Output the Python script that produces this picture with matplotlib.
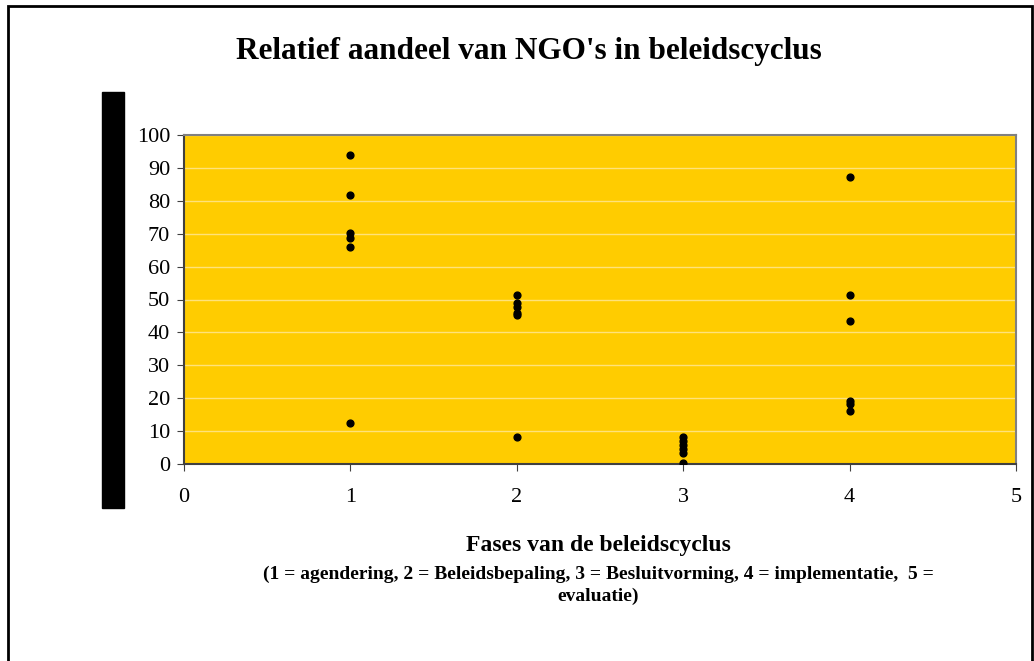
import matplotlib.pyplot as plt
from matplotlib.patches import Rectangle

# fase in de beleidscyclus en relatief aandeel (%)
fase1 = [94.0, 81.8, 70.3, 68.6, 66.1, 12.6]
fase2 = [51.5, 48.8, 47.8, 46.0, 45.4, 8.3]
fase3 = [8.2, 7.0, 5.8, 4.6, 3.4, 0.4]
fase4 = [87.3, 51.5, 43.6, 19.2, 18.3, 16.2]

fases = [1, 2, 3, 4]
waarden = [fase1, fase2, fase3, fase4]

plt.rcParams['font.family'] = ['Liberation Serif', 'DejaVu Serif']

fig = plt.figure(figsize=(10.34, 6.61), dpi=100)
ax = fig.add_axes([184/1034, 1-464/661, (1016-184)/1034, (464-135)/661])

for f, w in zip(fases, waarden):
    ax.scatter([f]*len(w), w, s=24, color='black', zorder=3)

ax.set_facecolor('#FFCC00')
ax.set_xlim(0, 5)
ax.set_ylim(0, 100)
ax.set_xticks(range(0, 6))
ax.set_yticks(range(0, 101, 10))
ax.grid(axis='y', color='#FFE27A', linewidth=1)
ax.set_axisbelow(True)
ax.tick_params(labelsize=16, length=5, color='#404040')
ax.tick_params(axis='x', pad=12)
ax.tick_params(axis='y', pad=5)

ax.spines['top'].set_color('#808080')
ax.spines['right'].set_color('#808080')
ax.spines['left'].set_color('#404040')
ax.spines['bottom'].set_color('#404040')
for s in ax.spines.values():
    s.set_linewidth(1.5)

fig.text(529/1034, 1-51/661, "Relatief aandeel van NGO's in beleidscyclus",
         ha='center', va='center', fontsize=22.5, fontweight='bold')
fig.text(598/1034, 1-545/661, "Fases van de beleidscyclus",
         ha='center', va='center', fontsize=17, fontweight='bold')
fig.text(598/1034, 1-574/661,
         "(1 = agendering, 2 = Beleidsbepaling, 3 = Besluitvorming, 4 = implementatie,  5 =",
         ha='center', va='center', fontsize=14, fontweight='bold')
fig.text(598/1034, 1-596/661, "evaluatie)",
         ha='center', va='center', fontsize=14, fontweight='bold')

# zwarte balk links en kader
fig.patches.append(Rectangle((102/1034, 1-508/661), 22/1034, 416/661,
                             transform=fig.transFigure, color='black'))
fig.patches.append(Rectangle((7.5/1034, -0.05), (1032-7.5)/1034, 1.05-6/661,
                             transform=fig.transFigure, fill=False,
                             edgecolor='black', linewidth=2))

fig.savefig('out.png', dpi=100)
